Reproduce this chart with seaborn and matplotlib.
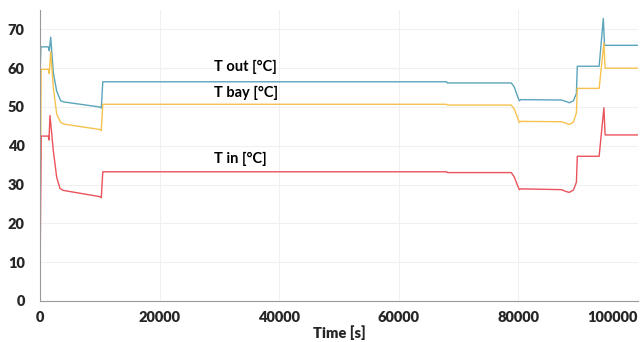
import numpy as np
import pandas as pd
import matplotlib
matplotlib.use("Agg")
import matplotlib.pyplot as plt
import seaborn as sns
from matplotlib.ticker import MultipleLocator

# ---- data ----
t_out = [0, 150, 1400, 1550, 1790, 2230, 2790, 3460, 4000, 10000, 10250, 10500,
         68000, 68100, 78800, 79300, 79800, 80150, 80400, 87200, 88000, 88500,
         89200, 89700, 89850, 93500, 94200, 94400, 100000]
v_out = [58, 65.5, 65.5, 64.5, 68.0, 58.8, 54.1, 51.6, 51.3, 50.0, 49.7, 56.5,
         56.5, 56.2, 56.2, 55.2, 53.0, 51.6, 51.9, 51.8, 51.4, 51.1,
         51.6, 53.5, 60.5, 60.5, 72.8, 65.9, 65.9]

t_bay = [0, 200, 1400, 1550, 1790, 2230, 2790, 3460, 4000, 10000, 10250, 10500,
         68000, 68100, 78800, 79300, 79800, 80150, 80400, 87200, 88000, 88500,
         89200, 89700, 89850, 93500, 94300, 94500, 100000]
v_bay = [17, 59.7, 59.7, 58.6, 64.3, 55.0, 48.2, 46.0, 45.6, 44.2, 43.9, 50.7,
         50.7, 50.5, 50.5, 49.5, 47.5, 46.0, 46.3, 46.2, 45.8, 45.5,
         46.1, 48.5, 54.8, 54.8, 66.5, 60.0, 60.0]

t_in = [0, 200, 1400, 1500, 1670, 2230, 2790, 3340, 3900, 10000, 10250, 10500,
        68000, 68100, 78800, 79300, 79800, 80150, 80400, 87200, 88000, 88500,
        89200, 89700, 89850, 93500, 94300, 94500, 100000]
v_in = [5, 42.5, 42.5, 41.5, 47.8, 38.7, 31.9, 29.0, 28.5, 26.9, 26.6, 33.3,
        33.3, 33.1, 33.1, 32.0, 30.0, 28.7, 28.9, 28.7, 28.2, 28.0,
        28.6, 30.6, 37.3, 37.3, 49.8, 42.8, 42.8]

series_names = ["T out [°C]", "T bay [°C]", "T in [°C]"]
colors = ["#5aa5ba", "#f6c24e", "#ea535b"]
x_ticks = [0, 20000, 40000, 60000, 80000, 100000]
y_ticks = [0, 10, 20, 30, 40, 50, 60, 70]

df = pd.concat([
    pd.DataFrame({"t": t_out, "v": v_out, "s": series_names[0]}),
    pd.DataFrame({"t": t_bay, "v": v_bay, "s": series_names[1]}),
    pd.DataFrame({"t": t_in, "v": v_in, "s": series_names[2]}),
], ignore_index=True)

sns.set_style("white")
plt.rcParams["font.family"] = ["Lato", "DejaVu Sans"]

fig = plt.figure(figsize=(6.41, 3.42), dpi=100)
ax = fig.add_axes([40 / 641, 41 / 342, 598 / 641, 291 / 342])

sns.lineplot(data=df, x="t", y="v", hue="s", palette=dict(zip(series_names, colors)),
             sort=False, estimator=None, linewidth=1.0, ax=ax, legend=False)

ax.set_xlim(0, 100000)
ax.set_ylim(0, 75)
ax.set_xticks(x_ticks)
ax.set_yticks(y_ticks)
ax.xaxis.set_minor_locator(MultipleLocator(10000))
ax.yaxis.set_minor_locator(MultipleLocator(5))
ax.grid(True, which="major", color="#f0f0f0", linewidth=0.8)
ax.set_axisbelow(True)

for sp in ["top", "right"]:
    ax.spines[sp].set_visible(False)
for sp in ["left", "bottom"]:
    ax.spines[sp].set_color("#9a9a9a")
    ax.spines[sp].set_linewidth(0.8)

ax.tick_params(axis="both", which="both", direction="out", color="#9a9a9a",
               width=0.8, labelsize=10.5)
ax.tick_params(axis="both", which="major", length=3)
ax.tick_params(axis="both", which="minor", length=3)
ax.tick_params(axis="x", pad=4)
ax.tick_params(axis="y", pad=8)
for lab in ax.get_xticklabels() + ax.get_yticklabels():
    lab.set_fontweight("heavy")
ax.get_xticklabels()[-1].set_horizontalalignment("right")

ax.set_xlabel("Time [s]", fontsize=10.5, fontweight="heavy", labelpad=1)
ax.set_ylabel("")

label_pos = [(29100, 60.2), (29100, 53.5), (29100, 36.7)]
for name, (lx, ly) in zip(series_names, label_pos):
    ax.text(lx, ly, name, fontsize=10.5, fontweight="bold", va="center", ha="left",
            color="black")

fig.savefig("out.png", dpi=100)
